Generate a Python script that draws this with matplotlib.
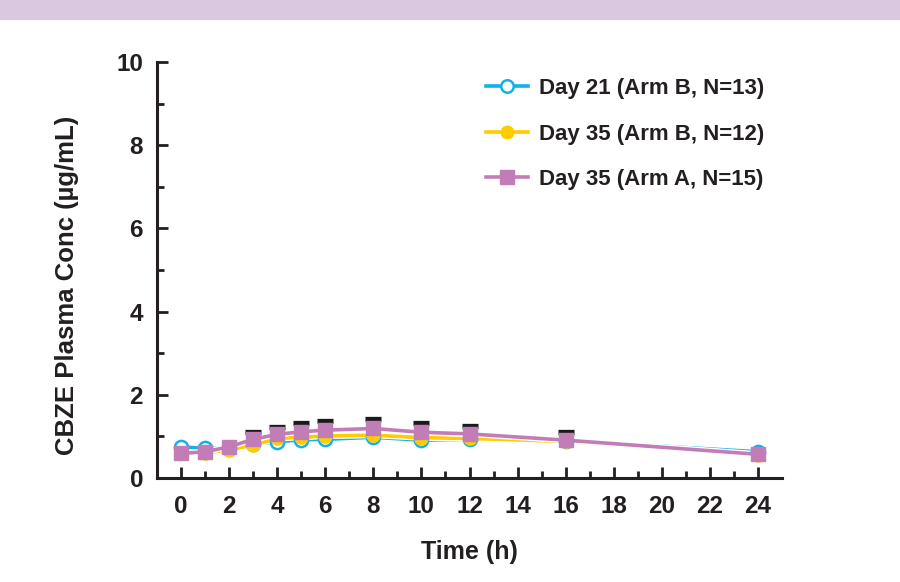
import matplotlib.pyplot as plt
import matplotlib.patheffects as pe
from matplotlib.patches import Rectangle
from matplotlib.lines import Line2D
import numpy as np

plt.rcParams['font.family'] = ['Liberation Sans', 'DejaVu Sans']
plt.rcParams['font.weight'] = 'bold'

# time points (h)
hours = [0, 1, 2, 3, 4, 5, 6, 8, 10, 12, 16, 24]

# mean CBZE plasma concentration (ug/mL)
day21_armB = [0.75, 0.71, 0.72, 0.82, 0.87, 0.92, 0.93, 0.98, 0.91, 0.93, 0.90, 0.63]
day35_armB = [0.60, 0.60, 0.68, 0.79, 0.95, 0.98, 1.01, 1.03, 0.97, 0.95, 0.88, 0.56]
day35_armA = [0.59, 0.63, 0.75, 0.93, 1.05, 1.11, 1.15, 1.19, 1.10, 1.06, 0.91, 0.57]
# upper SD bars for Arm A (nan = hidden behind the marker)
sd_armA = [np.nan, np.nan, np.nan, 0.18, 0.18, 0.22, 0.22, 0.24, 0.23, 0.20, 0.19, np.nan]

labels = ['Day 21 (Arm B, N=13)', 'Day 35 (Arm B, N=12)', 'Day 35 (Arm A, N=15)']
c_blue = '#12B1EA'
c_yellow = '#FFCC00'
c_purple = '#C27DB6'
dark = '#231f20'

fig = plt.figure(figsize=(9, 5.82), dpi=100)
fig.patches.append(Rectangle((0, 1 - 20 / 582), 1, 20 / 582, transform=fig.transFigure,
                             facecolor='#D9C8DF', edgecolor='none'))

ax = fig.add_axes([157 / 900, 1 - 478 / 582, 625 / 900, 416 / 582])

white = [pe.Stroke(linewidth=4.5, foreground='white'), pe.Normal()]

# lines (with white edge) then markers
ax.plot(hours, day21_armB, color=c_blue, lw=2.6, zorder=2, path_effects=white)
ax.plot(hours, day35_armB, color=c_yellow, lw=2.6, zorder=2.1, path_effects=white)
ax.plot(hours, day35_armA, color=c_purple, lw=2.6, zorder=2.2, path_effects=white)

ax.plot(hours, day21_armB, ls='none', marker='o', ms=9.5, mfc='white', mec=c_blue,
        mew=1.8, zorder=3)
ax.plot(hours, day35_armB, ls='none', marker='o', ms=9.5, mfc=c_yellow, mec=c_yellow,
        zorder=3.1)

# upper-only SD bars
top = np.array(day35_armA) + np.array(sd_armA)
ax.vlines(hours, day35_armA, top, color='#1a1a1a', lw=2, zorder=3.2)
ax.plot(hours, top, ls='none', marker='_', ms=11, mew=3.8, color='#1a1a1a', zorder=3.2)
ax.plot(hours, day35_armA, ls='none', marker='s', ms=10, mfc=c_purple, mec=c_purple,
        zorder=3.3)

ax.set_xlim(-1, 25)
ax.set_ylim(0, 10)
ax.set_xticks(np.arange(0, 25, 2))
ax.set_xticks(np.arange(1, 25, 2), minor=True)
ax.set_yticks(np.arange(0, 11, 2))
ax.set_yticks(np.arange(1, 10, 2), minor=True)

for s in ['top', 'right']:
    ax.spines[s].set_visible(False)
for s in ['left', 'bottom']:
    ax.spines[s].set_linewidth(2.2)
    ax.spines[s].set_color(dark)

ax.tick_params(which='major', direction='in', length=8, width=2, color=dark,
               labelsize=17.5, labelcolor=dark)
ax.tick_params(axis='x', which='major', pad=12)
ax.tick_params(axis='y', which='major', pad=10)
ax.tick_params(which='minor', direction='in', length=5, width=2, color=dark)
for t in ax.get_xticklabels() + ax.get_yticklabels():
    t.set_fontweight('bold')

ax.set_xlabel('Time (h)', fontsize=18, fontweight='bold', color=dark)
ax.set_ylabel('CBZE Plasma Conc (\u00b5g/mL)', fontsize=18.5, fontweight='bold',
              color=dark)
ax.xaxis.set_label_coords((469 - 157) / 625, (478 - 552) / 416)
ax.yaxis.set_label_coords((67 - 157) / 625, (478 - 285) / 416)
ax.xaxis.label.set_va('center')
ax.yaxis.label.set_va('center')

handles = [
    Line2D([], [], color=c_blue, lw=2.6, marker='o', ms=9, mfc='white', mec=c_blue, mew=1.8),
    Line2D([], [], color=c_yellow, lw=2.6, marker='o', ms=9, mfc=c_yellow, mec=c_yellow),
    Line2D([], [], color=c_purple, lw=2.6, marker='s', ms=10, mfc=c_purple, mec=c_purple),
]
leg = fig.legend(handles=handles, labels=labels, loc='upper left',
                 bbox_to_anchor=(475 / 900, 1 - 67 / 582), frameon=False,
                 prop={'size': 16, 'weight': 'bold'}, handlelength=1.9,
                 handletextpad=0.5, labelspacing=1.1, borderpad=0)
for t in leg.get_texts():
    t.set_color(dark)

fig.savefig('out.png', dpi=100)
